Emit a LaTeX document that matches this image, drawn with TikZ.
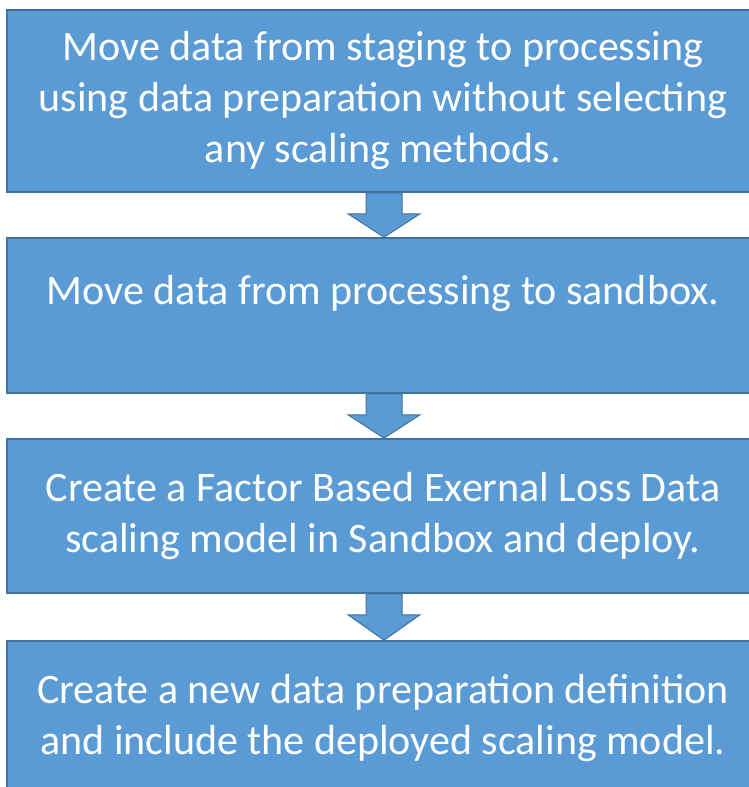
\documentclass[tikz,border=0pt]{standalone}
\usepackage{fontspec}
\setmainfont{Carlito}
\usetikzlibrary{calc}
\definecolor{boxfill}{RGB}{91,155,213}
\definecolor{boxline}{RGB}{65,113,156}
\tikzset{
  stepbox/.style={draw=boxline, fill=boxfill, line width=1.6pt, minimum width=752pt,
    inner sep=0pt, text=white, align=center, font=\fontsize{42}{51}\selectfont},
  blockarrow/.style={draw=boxline, fill=boxfill, line width=1pt, line join=miter}
}
\begin{document}
\begin{tikzpicture}[x=1pt,y=-1pt]
\useasboundingbox (0,0) rectangle (748,787);
\node[stepbox, minimum height=182pt] (b1) at (383,101)
  {Move data from staging to processing\\using data preparation without selecting\\any scaling methods.};
\node[stepbox, minimum height=155pt] (b2) at (383,315.5)
  {Move data from processing to sandbox.\\\mbox{}};
\node[stepbox, minimum height=154pt] (b3) at (383,516)
  {Create a Factor Based Exernal Loss Data\\scaling model in Sandbox and deploy.};
\node[stepbox, minimum height=154pt] (b4) at (383,718)
  {Create a new data preparation definition\\and include the deployed scaling model.};
\foreach \a/\b in {b1/b2, b2/b3, b3/b4}{
  \draw[blockarrow] ([xshift=-17pt]\a.south) -- ([xshift=-17pt,yshift=-21pt]\a.south)
    -- ([xshift=-35pt,yshift=-21pt]\a.south) -- ([xshift=1pt]\b.north)
    -- ([xshift=37pt,yshift=-21pt]\a.south) -- ([xshift=19pt,yshift=-21pt]\a.south)
    -- ([xshift=19pt]\a.south) -- cycle;
}
\end{tikzpicture}
\end{document}
